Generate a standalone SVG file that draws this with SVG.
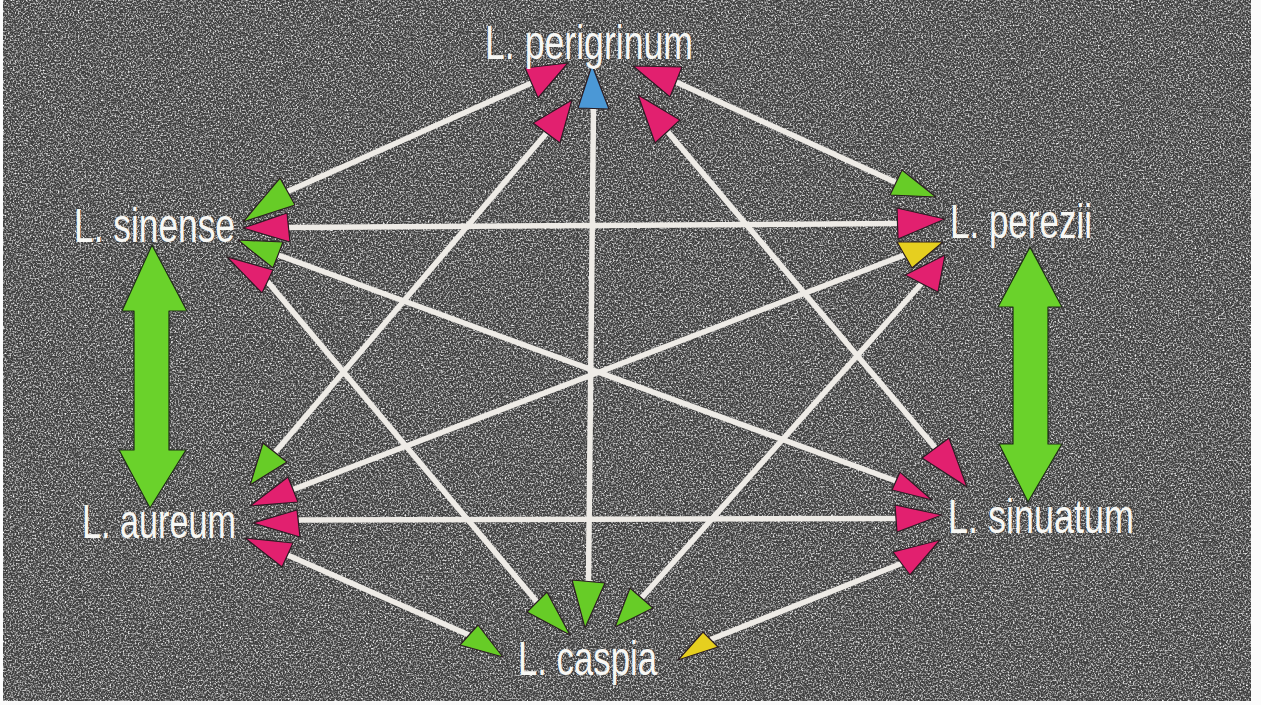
<svg xmlns="http://www.w3.org/2000/svg" width="1261" height="705" viewBox="0 0 1261 705">
  <defs>
    <!-- speckled print texture for the dark board -->
    <filter id="grain" x="0" y="0" width="100%" height="100%" filterUnits="objectBoundingBox">
      <feTurbulence type="fractalNoise" baseFrequency="0.6" numOctaves="2" seed="7" result="n"/>
      <feColorMatrix in="n" type="matrix" values="0 0 0 0 1  0 0 0 0 1  0 0 0 0 1  2.4 0 0 0 -1.05"/>
    </filter>
    <style>
      .board { fill: #404040; }
      .grain { fill: #ffffff; filter: url(#grain); }
      .link { stroke: #eeebe6; stroke-width: 5.5; stroke-linecap: butt; fill: none; }
      .head { stroke: #2a1c22; stroke-width: 1.2; stroke-linejoin: round; }
      .pink { fill: #e2206f; }
      .green { fill: #67cc27; }
      .yellow { fill: #e6cf1f; }
      .blue { fill: #4b98d6; }
      .big { fill: #6ad22b; stroke: #1f2a18; stroke-width: 1.2; stroke-linejoin: round; }
      .label { fill: #f7f7f4; font-family: "Liberation Sans", Arial, sans-serif; font-size: 48px; }
    </style>
  </defs>

  <!-- page and board -->
  <rect x="0" y="0" width="1261" height="705" fill="#fbfbfb"/>
  <rect class="board" x="3" y="0" width="1248" height="701"/>
  <rect class="grain" x="3" y="0" width="1248" height="701"/>

  <!-- connecting lines -->
  <g id="connectors">
    <line class="link" x1="531.5" y1="83" x2="287.5" y2="191.5"/>
    <line class="link" x1="676" y1="82" x2="896" y2="182.5"/>
    <line class="link" x1="593.5" y1="108.5" x2="588.5" y2="581.5"/>
    <line class="link" x1="546.5" y1="133" x2="275" y2="452.5"/>
    <line class="link" x1="667.5" y1="131.5" x2="935.5" y2="448"/>
    <line class="link" x1="288.5" y1="227.5" x2="897.5" y2="223.5"/>
    <line class="link" x1="278" y1="255" x2="896" y2="481"/>
    <line class="link" x1="267.5" y1="281.5" x2="537" y2="602"/>
    <line class="link" x1="904.5" y1="255" x2="293" y2="489.5"/>
    <line class="link" x1="921.5" y1="283.5" x2="641.5" y2="598"/>
    <line class="link" x1="298.5" y1="520" x2="896" y2="518.5"/>
    <line class="link" x1="287.5" y1="555" x2="469" y2="635"/>
    <line class="link" x1="901.5" y1="563.5" x2="710.5" y2="639.5"/>

    <!-- heads at L. perigrinum -->
    <polygon class="head pink" points="568,63 525,68 538,98"/>
    <polygon class="head pink" points="572,100 533,123 560,143"/>
    <polygon class="head blue" points="592,65 578,108 609,109"/>
    <polygon class="head pink" points="633,66 682,67 670,97"/>
    <polygon class="head pink" points="638,95 680,120 655,143"/>

    <!-- heads at L. sinense -->
    <polygon class="head green" points="243,222 280,178 295,205"/>
    <polygon class="head pink" points="243,228 287,213 290,242"/>
    <polygon class="head green" points="238,240 283,242 273,268"/>
    <polygon class="head pink" points="227,257 273,270 262,293"/>

    <!-- heads at L. perezii -->
    <polygon class="head green" points="936,197 902,170 890,195"/>
    <polygon class="head pink" points="945,219 897,208 898,239"/>
    <polygon class="head yellow" points="943,242 897,242 912,268"/>
    <polygon class="head pink" points="945,255 905,275 938,292"/>

    <!-- heads at L. aureum -->
    <polygon class="head green" points="250,485 263,443 287,462"/>
    <polygon class="head pink" points="250,506 288,477 298,502"/>
    <polygon class="head pink" points="253,523 297,510 300,537"/>
    <polygon class="head pink" points="245,538 293,543 282,567"/>

    <!-- heads at L. sinuatum -->
    <polygon class="head pink" points="967,487 922,458 949,438"/>
    <polygon class="head pink" points="932,500 892,490 900,472"/>
    <polygon class="head pink" points="942,515 895,505 897,532"/>
    <polygon class="head pink" points="940,540 893,552 910,575"/>

    <!-- heads at L. caspia -->
    <polygon class="head green" points="503,657 460,645 478,625"/>
    <polygon class="head green" points="570,635 527,612 547,592"/>
    <polygon class="head green" points="585,628 572,580 605,583"/>
    <polygon class="head green" points="615,627 630,588 653,608"/>
    <polygon class="head yellow" points="678,660 703,632 718,647"/>

    <!-- broad two-way arrows -->
    <polygon class="big" points="152,245 187,311 169,311 169,450 186,450 150,508 119,450 134,450 134,311 122,311"/>
    <polygon class="big" points="1030,247 1062,307 1048,307 1048,444 1062,444 1028,502 999,444 1013,444 1013,307 998,307"/>
  </g>

  <!-- species -->
  <g id="perigrinum"><text class="label" x="485" y="59" textLength="208" lengthAdjust="spacingAndGlyphs">L. perigrinum</text></g>
  <g id="sinense"><text class="label" x="74" y="242" textLength="161" lengthAdjust="spacingAndGlyphs">L. sinense</text></g>
  <g id="perezii"><text class="label" x="950" y="238" textLength="142" lengthAdjust="spacingAndGlyphs">L. perezii</text></g>
  <g id="aureum"><text class="label" x="82" y="538" textLength="154" lengthAdjust="spacingAndGlyphs">L. aureum</text></g>
  <g id="sinuatum"><text class="label" x="948" y="533" textLength="186" lengthAdjust="spacingAndGlyphs">L. sinuatum</text></g>
  <g id="caspia"><text class="label" x="518" y="675" textLength="139" lengthAdjust="spacingAndGlyphs">L. caspia</text></g>
</svg>
